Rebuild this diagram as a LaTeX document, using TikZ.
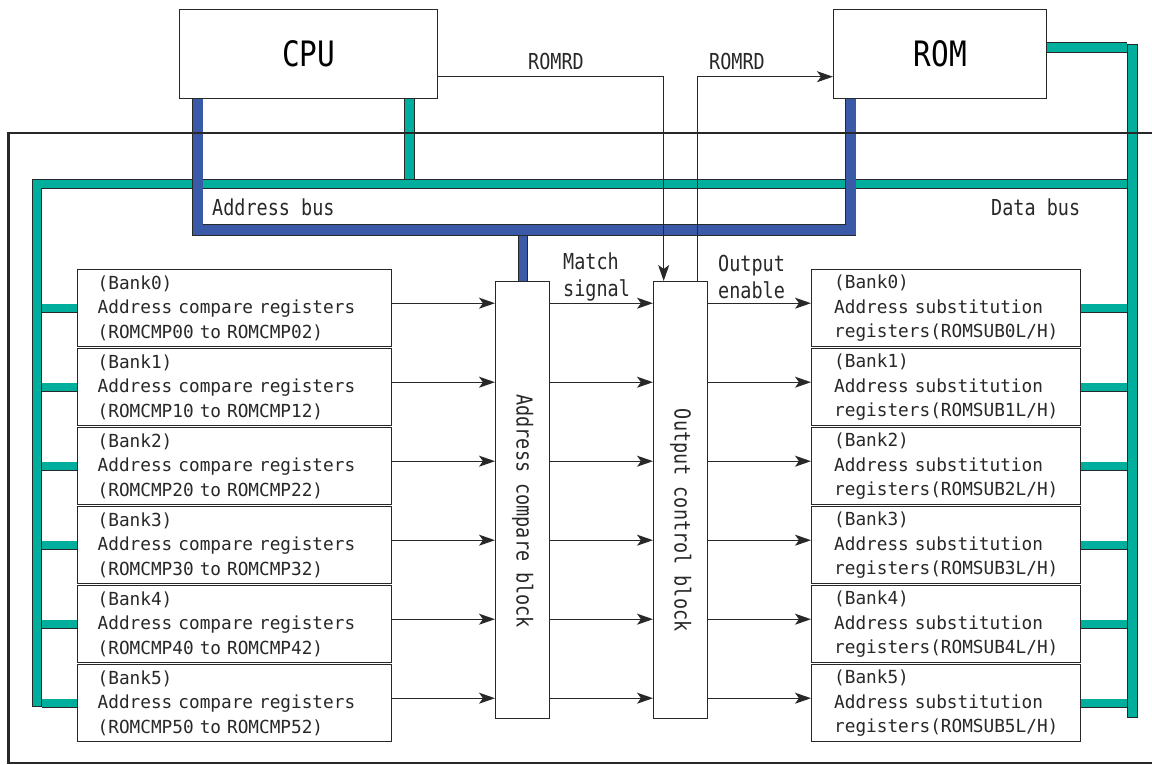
\documentclass[tikz,border=0pt]{standalone}
\usepackage{fontspec}
\usetikzlibrary{arrows.meta}
\newfontfamily\lblfont[FakeStretch=0.84]{DejaVu Sans Mono}
\newfontfamily\regfont[FakeStretch=0.985]{DejaVu Sans Mono}
\definecolor{busblue}{RGB}{58,90,168}
\definecolor{busteal}{RGB}{0,174,158}
\definecolor{ink}{RGB}{40,40,40}

\begin{document}
\begin{tikzpicture}[x=1pt, y=-1pt, line join=miter, >={Stealth[length=16pt,width=11pt,inset=4pt]},
        blk/.style={draw=ink, line width=1.4pt, fill=white, anchor=north west, inner sep=0pt},
        reg/.style={blk, align=left, text width=#1, minimum height=77pt, text=ink,
            font=\regfont\fontsize{18}{24.5}\selectfont},
        lbl/.style={inner sep=0pt, text=ink, font=\lblfont\fontsize{22}{27}\selectfont},
        dbus/.style={draw=ink, line width=0.9pt, double=busteal, double distance=8.5pt},
        abus/.style={draw=ink, line width=0.9pt, double=busblue, double distance=10pt},
        sig/.style={->, draw=ink, line width=1.4pt}]
    \useasboundingbox (0,0) rectangle (1152,765);
    % top blocks
    \node[blk, minimum width=258pt, minimum height=89pt, font=\lblfont\fontsize{35}{35}\selectfont] (cpu) at (179,9) {CPU};
    \node[blk, minimum width=213pt, minimum height=89pt, font=\lblfont\fontsize{35}{35}\selectfont] (rom) at (833,9) {ROM};
    % middle blocks
    \node[blk, minimum width=54pt, minimum height=437pt] (cmpblk) at (495,281) {};
    \node[blk, minimum width=54pt, minimum height=437pt] (outblk) at (653,281) {};
    \node[lbl, rotate=-90] (cmptxt) at ([yshift=-11pt]cmpblk.center) {Address compare block};
    \node[lbl, rotate=-90] (outtxt) at ([yshift=-20pt]outblk.center) {Output control block};
    % bus lines
    \coordinate (dbl) at (42,184);
    \coordinate (dbr) at (1127,184);
    \coordinate (ab) at (0,234);
    % register banks
    \foreach \i in {0,...,5}{
        \pgfmathsetmacro\yy{269+79*\i}
        \node[reg=274pt, inner xsep=20pt] (cmp\i) at (77,\yy)
            {(Bank\i)\\Address compare registers\\(ROMCMP\i0 to ROMCMP\i2)};
        \node[reg=224pt, inner xsep=22.5pt] (sub\i) at (811,\yy)
            {(Bank\i)\\Address substitution\\registers(ROMSUB\i L/H)};
        \coordinate (r\i) at ([yshift=5pt]cmp\i.east);
        \draw[sig] (r\i) -- (r\i -| cmpblk.west);
        \draw[sig] (r\i -| cmpblk.east) -- (r\i -| outblk.west);
        \draw[sig] (r\i -| outblk.east) -- (r\i -| sub\i.west);
        \draw[dbus, double distance=7.5pt] (cmp\i.west) -- (cmp\i.west -| dbl);
        \draw[dbus, double distance=7.5pt] (sub\i.east) -- (sub\i.east -| dbr);
    }
    % data bus
    \draw[dbus] ([xshift=230.5pt]cpu.south west) -- ++(0,86);
    \draw[dbus] (rom.east |- 0,47.5) -- (dbr |- 0,47.5);
    \draw[dbus, line cap=rect] (37,702) -- (37,184) -- (1132,184);
    \draw[dbus, line cap=rect] (1132.5,49) -- (1132.5,713);
    % address bus
    \draw[abus, double distance=8pt] (ab -| cmpblk.north) -- (cmpblk.north);
    \draw[abus] ([xshift=18.5pt]cpu.south west) -- ++(0,130.5) -| ([xshift=17.5pt]rom.south west);
    % read strobes
    \draw[sig] ([yshift=-22.5pt]cpu.east) -| ([xshift=-17pt]outblk.north);
    \draw[sig] ([xshift=17pt]outblk.north) |- ([yshift=-22.5pt]rom.west);
    % frame
    \draw[ink, line width=2.8pt] (1160,133) -- (8.5,133) -- (8.5,763) -- (1160,763);
    % labels
    \node[lbl] (rd1) at (556,61) {ROMRD};
    \node[lbl] (rd2) at (737,61) {ROMRD};
    \node[lbl, anchor=west] (abuslbl) at (212,207) {Address bus};
    \node[lbl, anchor=west] (dbuslbl) at (991,207) {Data bus};
    \node[lbl, anchor=west, align=left] (match) at (563,277) {Match\\signal};
    \node[lbl, anchor=west, align=left] (oen) at (718,277) {Output\\enable};
\end{tikzpicture}
\end{document}
